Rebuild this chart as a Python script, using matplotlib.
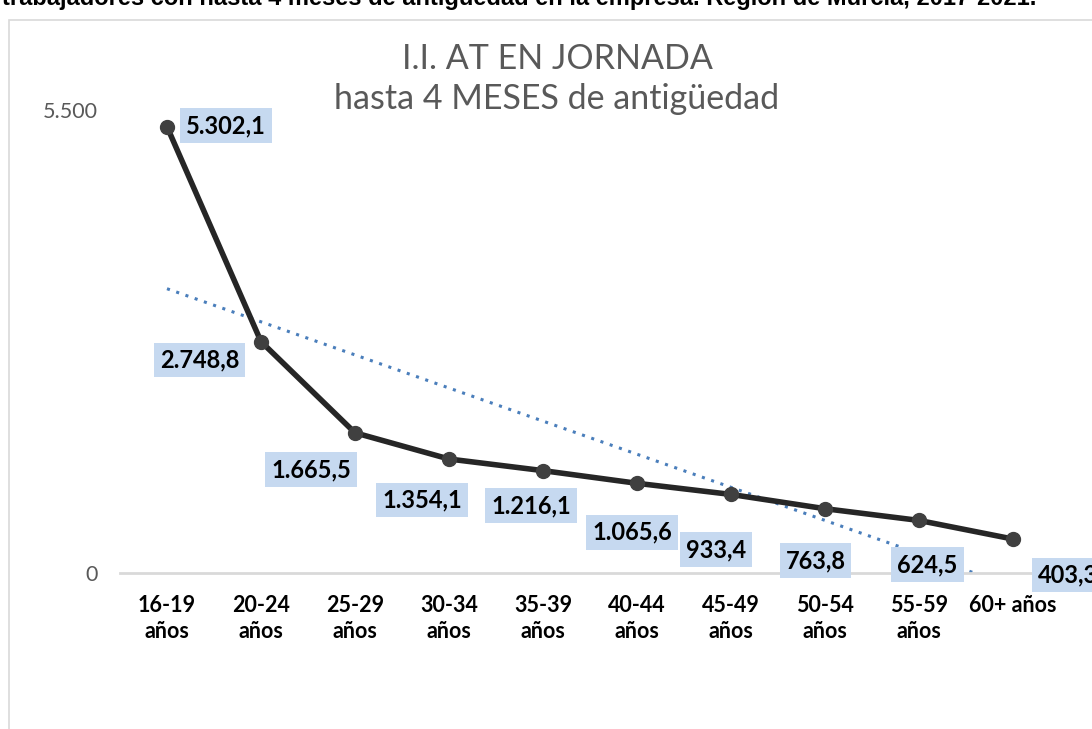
import numpy as np
import matplotlib.pyplot as plt
from matplotlib.patches import Rectangle

# data
age_groups = ["16-19\naños", "20-24\naños", "25-29\naños", "30-34\naños", "35-39\naños",
              "40-44\naños", "45-49\naños", "50-54\naños", "55-59\naños", "60+ años"]
incidence = [5302.1, 2748.8, 1665.5, 1354.1, 1216.1, 1065.6, 933.4, 763.8, 624.5, 403.3]
ytick_values = [0, 5500]
ytick_labels = ["0", "5.500"]

header = "trabajadores con hasta 4 meses de antigüedad en la empresa. Región de Murcia, 2017-2021."
title = "I.I. AT EN JORNADA\nhasta 4 MESES de antigüedad"

# label box offsets from each point, in points (layout only)
label_offsets = [(42.5, 0.7), (-44.3, -13.3), (-31.7, -26.6), (-19.4, -29.5), (-8.6, -25.2),
                 (-3.6, -35.3), (-10.8, -39.6), (-6.8, -37.4), (6.1, -32), (39.6, -25.9)]


def fmt(v):
    s = f"{v:,.1f}"
    return s.replace(",", "X").replace(".", ",").replace("X", ".")


W, H = 1092, 729
fig = plt.figure(figsize=(W / 100, H / 100), dpi=100)

# outer chart frame
fig.patches.append(Rectangle((9 / W, -0.1), 1.2, 1 - 20 / H + 0.1, transform=fig.transFigure,
                             fill=False, edgecolor="#d9d9d9", linewidth=1.2))
# header sentence, cut off by the top edge as in the source image
fig.text(2 / W, 1 - 5 / H, header, fontsize=17, fontweight="bold", family="Liberation Sans",
         ha="left", va="baseline", color="black")

ax = fig.add_axes([120 / W, 1 - 573 / H, 940 / W, 463 / H])
x = np.arange(1, len(incidence) + 1)

# linear trend (Excel style), clipped at the axis minimum
slope, intercept = np.polyfit(x, incidence, 1)
x_end = -intercept / slope
xt = np.linspace(1, x_end, 100)
ax.plot(xt, slope * xt + intercept, linestyle=(0, (1, 2.2)), color="#4a7ebb", linewidth=2.2,
        zorder=2)

ax.plot(x, incidence, color="#262626", linewidth=4, marker="o", markersize=10,
        markerfacecolor="#404040", markeredgecolor="#404040", zorder=3)

for xi, v, (dx, dy) in zip(x, incidence, label_offsets):
    ax.annotate(fmt(v), (xi, v), xytext=(dx, dy), textcoords="offset points",
                ha="center", va="center", fontsize=17, fontweight="bold", family="Lato",
                bbox=dict(boxstyle="square,pad=0.25", facecolor="#c6d9f0", edgecolor="none"),
                zorder=4, annotation_clip=False)

ax.set_xlim(0.5, len(incidence) + 0.5)
ax.set_ylim(0, 5500)
ax.set_xticks(x)
ax.set_xticklabels(age_groups, fontsize=15.5, fontweight="bold", family="Lato", linespacing=1.3)
ax.set_yticks(ytick_values)
ax.set_yticklabels(ytick_labels, fontsize=15.5, color="#595959", family="Lato")
ax.tick_params(axis="both", length=0)
ax.tick_params(axis="x", pad=16)
ax.tick_params(axis="y", pad=16)
for side in ["top", "right", "left"]:
    ax.spines[side].set_visible(False)
ax.spines["bottom"].set_color("#d9d9d9")
ax.spines["bottom"].set_linewidth(2)

fig.text(557 / W, 1 - 79 / H, title, fontsize=24.5, color="#595959", family="Lato",
         ha="center", va="center", linespacing=1.29)

fig.savefig("out.png", dpi=100)
